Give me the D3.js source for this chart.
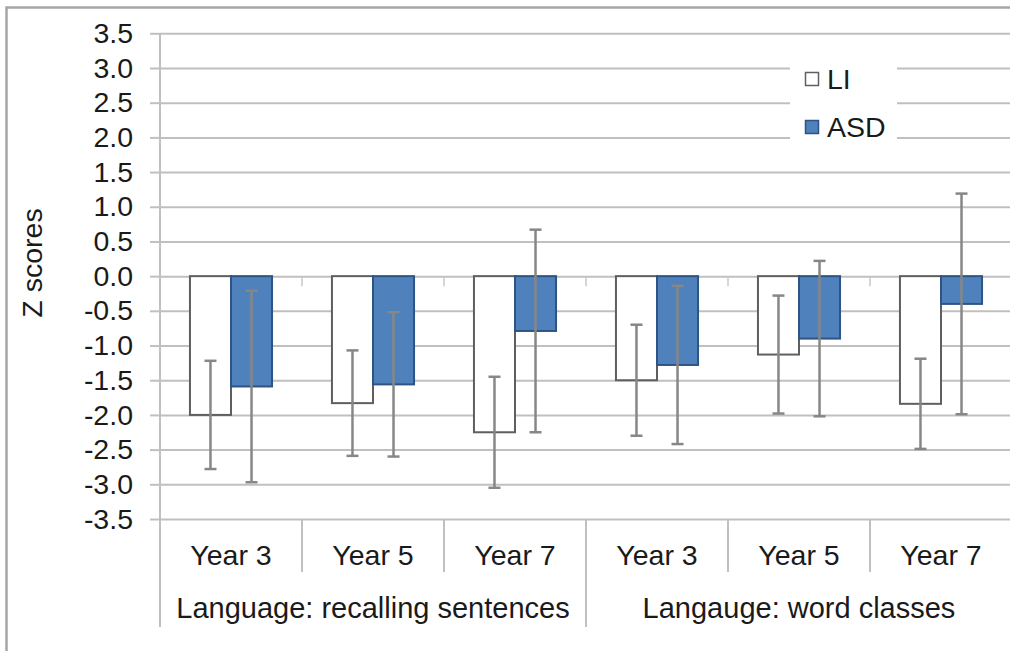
<!DOCTYPE html>
<html>
<head>
<meta charset="utf-8">
<script src="https://cdn.jsdelivr.net/npm/d3@7"></script>
<style>
  html, body { margin: 0; padding: 0; background: #fff; }
  svg { display: block; font-family: "Liberation Sans", Arial, sans-serif; }
</style>
</head>
<body>
<div id="grafico"></div>
<script>
// dados
const anos = ["Year 3", "Year 5", "Year 7", "Year 3", "Year 5", "Year 7"];
const grupos = ["Language: recalling sentences", "Langauge: word classes"];
const series = ["LI", "ASD"];
const valoresLI  = [-2.00, -1.83, -2.25, -1.50, -1.13, -1.84];
const valoresASD = [-1.59, -1.56, -0.79, -1.28, -0.90, -0.40];
const erroLI  = [0.78, 0.76, 0.80, 0.80, 0.85, 0.65];
const erroASD = [1.38, 1.04, 1.46, 1.14, 1.12, 1.59];
const ticksY = [-3.5, -3.0, -2.5, -2.0, -1.5, -1.0, -0.5, 0.0, 0.5, 1.0, 1.5, 2.0, 2.5, 3.0, 3.5];

const largura = 1010, altura = 651;
const margem = { superior: 33.3, inferior: 132, esquerda: 160 };
const larguraGrupo = 142;
const fonte = "28.5px";
const cores = { LI: "#ffffff", ASD: "#4f81bd" };
const bordas = { LI: "#5f5f5f", ASD: "#2f5382" };

const dados = anos.map((a, i) => ({
  i, ano: a,
  LI: valoresLI[i], ASD: valoresASD[i],
  eLI: erroLI[i], eASD: erroASD[i]
}));

const svg = d3.select("#grafico").append("svg")
  .attr("width", largura)
  .attr("height", altura)
  .attr("viewBox", [0, 0, largura, altura]);

// moldura externa
svg.append("rect")
  .attr("x", 6.5).attr("y", 7.5)
  .attr("width", 1100).attr("height", 700)
  .attr("fill", "none")
  .attr("stroke", "#a6a6a6")
  .attr("stroke-width", 2.5);

// escalas
const x = d3.scaleBand()
  .domain(d3.range(anos.length))
  .range([margem.esquerda, margem.esquerda + larguraGrupo * anos.length])
  .padding(0);

const xs = d3.scaleBand()
  .domain(series)
  .range([0, x.bandwidth()])
  .paddingInner(0)
  .paddingOuter(0.73);

const y = d3.scaleLinear()
  .domain([-3.5, 3.5])
  .range([altura - margem.inferior, margem.superior]);

const xFim = x.range()[1];

// EIXO Y + grade
svg.append("g")
  .attr("class", "eixo_y")
  .attr("transform", `translate(${margem.esquerda},0)`)
  .call(d3.axisLeft(y).tickValues(ticksY).tickSize(10).tickPadding(17)
    .tickFormat(d => d.toFixed(1)))
  .call(g => g.select(".domain").remove())
  .call(g => g.selectAll(".tick line")
    .attr("stroke", "#c0c0c0").attr("stroke-width", 2))
  .call(g => g.selectAll(".tick line").clone()
    .attr("x1", 0)
    .attr("x2", xFim - margem.esquerda))
  .call(g => g.selectAll(".tick text")
    .attr("fill", "#1a1a1a")
    .style("font-size", fonte));

// linha vertical do eixo
svg.append("line")
  .attr("x1", margem.esquerda).attr("x2", margem.esquerda)
  .attr("y1", y(3.5)).attr("y2", 627)
  .attr("stroke", "#c0c0c0").attr("stroke-width", 2);

// marcas no eixo zero
svg.append("g")
  .selectAll("line")
  .data(d3.range(1, anos.length))
  .join("line")
    .attr("x1", i => x(i)).attr("x2", i => x(i))
    .attr("y1", y(0)).attr("y2", y(0) + 10)
    .attr("stroke", "#c8c8c8").attr("stroke-width", 1.5);

// divisórias das categorias
svg.append("g")
  .selectAll("line")
  .data(d3.range(1, anos.length + 1))
  .join("line")
    .attr("x1", i => x(i) ?? xFim).attr("x2", i => x(i) ?? xFim)
    .attr("y1", y(-3.5))
    .attr("y2", i => (i % 3 === 0 ? 627 : 572))
    .attr("stroke", "#c0c0c0").attr("stroke-width", 2);

// rótulos dos anos
svg.append("g")
  .attr("class", "eixo_x")
  .attr("transform", `translate(0,${y(-3.5)})`)
  .call(d3.axisBottom(x).tickSize(0).tickPadding(26).tickFormat(i => anos[i]))
  .call(g => g.select(".domain").remove())
  .call(g => g.selectAll(".tick text")
    .attr("fill", "#1a1a1a")
    .style("font-size", fonte));

// rótulos dos grupos
svg.append("g")
  .selectAll("text")
  .data(grupos)
  .join("text")
    .attr("x", (d, k) => (x(k * 3) + (x(k * 3 + 3) ?? xFim)) / 2)
    .attr("y", 618)
    .attr("text-anchor", "middle")
    .attr("fill", "#1a1a1a")
    .style("font-size", "29px")
    .text(d => d);

// título eixo y
svg.append("text")
  .attr("transform", `translate(42,263) rotate(-90)`)
  .attr("text-anchor", "middle")
  .attr("fill", "#1a1a1a")
  .style("font-size", fonte)
  .text("Z scores");

// BARRAS
const grupo = svg.append("g")
  .selectAll("g")
  .data(dados)
  .join("g")
    .attr("transform", d => `translate(${x(d.i)},0)`);

grupo.selectAll("rect")
  .data(d => series.map(s => ({ s, v: d[s] })))
  .join("rect")
    .attr("x", d => xs(d.s))
    .attr("y", d => Math.min(y(0), y(d.v)))
    .attr("width", xs.bandwidth())
    .attr("height", d => Math.abs(y(d.v) - y(0)))
    .attr("fill", d => cores[d.s])
    .attr("stroke", d => bordas[d.s])
    .attr("stroke-width", 2);

// barras de erro
const erros = grupo.selectAll("g.erro")
  .data(d => series.map(s => ({ s, v: d[s], e: d["e" + s] })))
  .join("g")
    .attr("class", "erro")
    .attr("stroke", "#878787")
    .attr("stroke-width", 2.5);

erros.append("line")
  .attr("x1", d => xs(d.s) + xs.bandwidth() / 2)
  .attr("x2", d => xs(d.s) + xs.bandwidth() / 2)
  .attr("y1", d => y(d.v + d.e))
  .attr("y2", d => y(d.v - d.e));

erros.selectAll("line.cap")
  .data(d => [d.v + d.e, d.v - d.e].map(v => ({ s: d.s, v })))
  .join("line")
    .attr("class", "cap")
    .attr("x1", d => xs(d.s) + xs.bandwidth() / 2 - 6)
    .attr("x2", d => xs(d.s) + xs.bandwidth() / 2 + 6)
    .attr("y1", d => y(d.v))
    .attr("y2", d => y(d.v));

// LEGENDA
const legenda = svg.append("g").attr("transform", "translate(790,52)");
legenda.append("rect")
  .attr("width", 107).attr("height", 104)
  .attr("fill", "#fff");

const itens = legenda.selectAll("g.item")
  .data(series)
  .join("g")
    .attr("class", "item")
    .attr("transform", (d, k) => `translate(0,${20 + k * 48})`);

itens.append("rect")
  .attr("x", 15.5).attr("y", 0.5)
  .attr("width", 13).attr("height", 13)
  .attr("fill", d => cores[d])
  .attr("stroke", d => bordas[d])
  .attr("stroke-width", 1.5);

itens.append("text")
  .attr("x", 37)
  .attr("y", 17)
  .attr("fill", "#1a1a1a")
  .style("font-size", fonte)
  .text(d => d);
</script>
</body>
</html>
